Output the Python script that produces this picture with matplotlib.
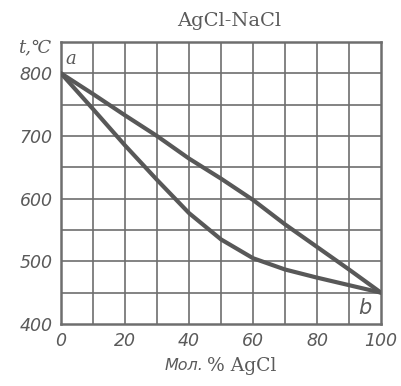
import matplotlib
matplotlib.use("Agg")
import matplotlib.pyplot as plt

# Data (mol % AgCl, temperature °C)
x_pct = [0, 10, 20, 30, 40, 50, 60, 70, 80, 90, 100]
liquidus = [800, 767, 733, 700, 664, 632, 598, 559, 523, 487, 450]
solidus = [800, 743, 685, 630, 577, 535, 505, 487, 474, 462, 450]
xticks = [0, 20, 40, 60, 80, 100]
yticks = [400, 500, 600, 700, 800]
title = "AgCl-NaCl"

line_c = "#585858"
grid_c = "#6e6e6e"
text_c = "#5a5a5a"

fig = plt.figure(figsize=(4.01, 3.86), dpi=100)
ax = fig.add_axes([61/401, 1-324/386, 320/401, 282/386])
ax.set_xlim(0, 100)
ax.set_ylim(400, 850)

for xv in range(10, 100, 10):
    ax.axvline(xv, color=grid_c, lw=1.2, zorder=1)
for yv in range(450, 850, 50):
    ax.axhline(yv, color=grid_c, lw=1.2, zorder=1)

ax.plot(x_pct, liquidus, color=line_c, lw=3.0, zorder=3,
        solid_capstyle='round', solid_joinstyle='round')
ax.plot(x_pct, solidus, color=line_c, lw=3.0, zorder=3,
        solid_capstyle='round', solid_joinstyle='round')

for s in ax.spines.values():
    s.set_color(grid_c)
    s.set_linewidth(1.8)

ax.set_xticks(xticks)
ax.set_yticks(yticks)
ax.tick_params(length=0, pad=6, labelcolor=text_c, labelsize=12.5)
for lab in ax.get_xticklabels() + ax.get_yticklabels():
    lab.set_fontstyle('italic')

ax.text(1.5, 808, "a", fontsize=13, fontstyle='italic', family='DejaVu Serif',
        color=text_c, ha='left', va='bottom')
ax.text(97, 425, "b", fontsize=15, fontstyle='italic', family='DejaVu Sans',
        color=text_c, ha='right', va='center')

fig.text(229/401, 1-21/386, title, ha='center', va='center', fontsize=14,
         family='DejaVu Serif', color=text_c)
fig.text(18/401, 1-47/386, "t,℃", ha='left', va='center', fontsize=13,
         family='DejaVu Serif', fontstyle='italic', color=text_c)
fig.text(203/401, 1-366/386, "Мол.", ha='right', va='center', fontsize=11.5,
         fontstyle='italic', color=text_c)
fig.text(207/401, 1-366/386, "% AgCl", ha='left', va='center', fontsize=13.5,
         family='DejaVu Serif', color=text_c)

fig.savefig("out.png", dpi=100, facecolor='white')
